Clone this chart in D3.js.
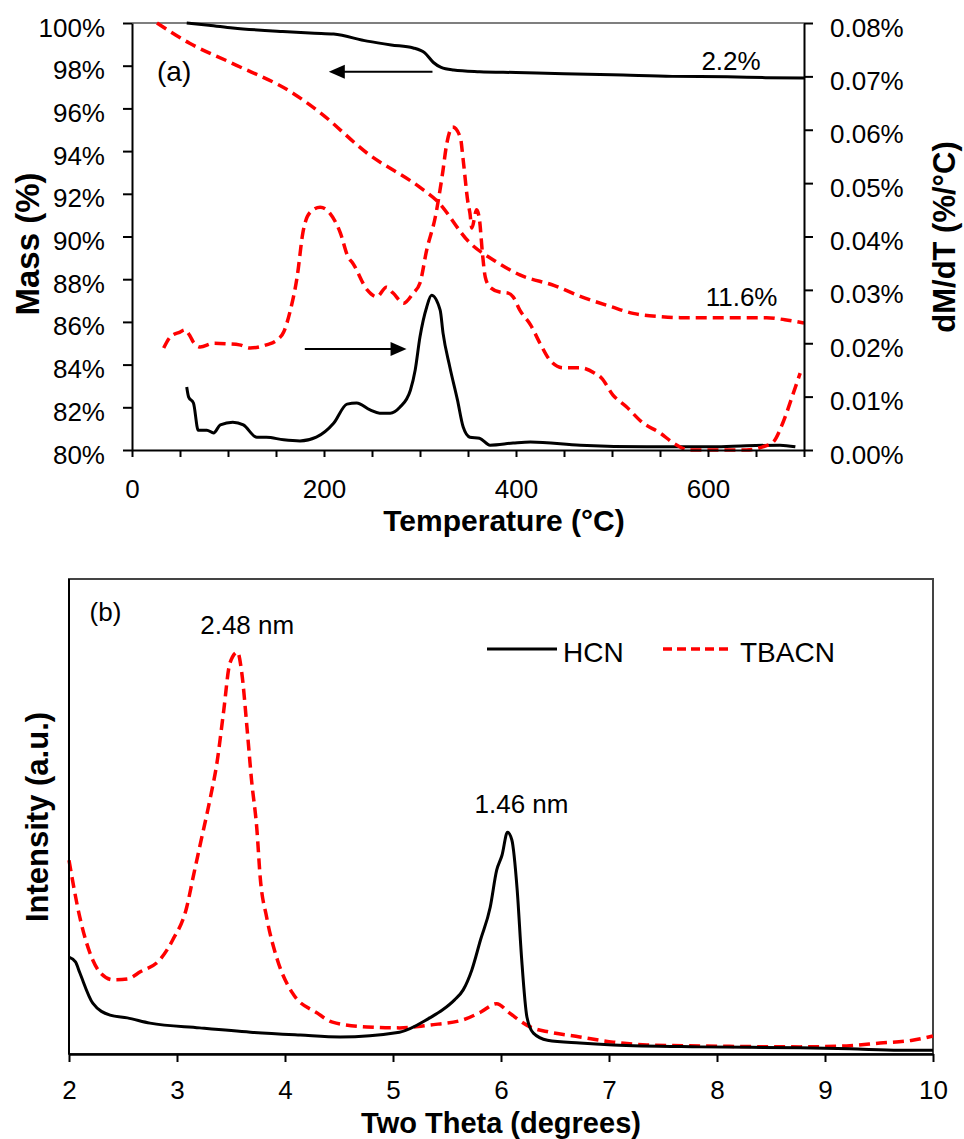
<!DOCTYPE html>
<html>
<head>
<meta charset="utf-8">
<script src="https://cdn.jsdelivr.net/npm/d3@7"></script>
<style>
body { margin: 0; background: #fff; }
text { font-family: Arial, "Liberation Sans", sans-serif; fill: #000; }
</style>
</head>
<body>
<div id="chart"></div>
<script>
// ---- panel (a): TGA, [temperature °C, value] ----
var hcnMass = [[57,100],[80,99.9],[105,99.77],[157,99.6],[190,99.52],[210,99.48],[245,99.15],[270,98.97],[293,98.83],[305,98.6],
  [314,98.15],[322,97.92],[335,97.8],[362,97.72],[400,97.68],[450,97.62],[500,97.58],[563,97.5],[620,97.48],[660,97.44],[700,97.42]];
var tbacnMass = [[26,100],[60,99.05],[105,98.1],[168,96.7],[196,95.8],[245,93.9],[300,92.3],[317,91.7],[352,89.7],[380,88.8],
  [404,88.2],[440,87.7],[467,87.2],[500,86.7],[522,86.4],[550,86.25],[571,86.2],[661,86.2],[680,86.1],[700,85.95]];
var hcnRate = [[57,0.0118],[59,0.0099],[64,0.0088],[69,0.0037],[78,0.0037],[85,0.0032],[92,0.0047],[105,0.0052],[116,0.0047],
  [130,0.0024],[140,0.0024],[158,0.0019],[175,0.0017],[192,0.0024],[210,0.005],[224,0.0086],[234,0.0088],[248,0.0075],
  [258,0.0069],[269,0.0069],[279,0.008],[290,0.0112],[295,0.015],[300,0.0212],[307,0.0268],[312,0.029],[321,0.0262],
  [324,0.0219],[331,0.0156],[339,0.0094],[345,0.0043],[352,0.0024],[362,0.0022],[373,0.0009],[397,0.0013],[415,0.0015],
  [467,0.0009],[536,0.0006],[605,0.0006],[640,0.0008],[675,0.0009],[691,0.0006]];
var tbacnRate = [[33,0.0191],[40,0.0212],[50,0.0221],[55,0.0225],[60,0.0215],[64,0.0202],[71,0.0193],[85,0.02],[99,0.0199],
  [112,0.0197],[123,0.0191],[140,0.0197],[151,0.0206],[158,0.0221],[165,0.0262],[172,0.0324],[178,0.0407],[185,0.0444],
  [196,0.0455],[206,0.0444],[217,0.0407],[225,0.0362],[230,0.035],[245,0.03],[255,0.0287],[265,0.0305],[272,0.0294],
  [283,0.0275],[293,0.0294],[300,0.0313],[307,0.0375],[316,0.0437],[323,0.0512],[328,0.0575],[334,0.0605],[342,0.0586],
  [345,0.0543],[350,0.0463],[352,0.0444],[354,0.0416],[359,0.045],[362,0.0431],[365,0.0369],[368,0.0324],[373,0.0305],
  [383,0.0296],[392,0.0294],[397,0.0287],[404,0.0262],[415,0.0235],[425,0.02],[435,0.0169],[449,0.0154],[467,0.0154],
  [482,0.0144],[489,0.0135],[501,0.0103],[515,0.0081],[532,0.0051],[550,0.0032],[564,0.0013],[581,0],[605,0],[640,0],
  [657,0.0006],[668,0.0015],[678,0.0051],[689,0.0107],[696,0.0144]];
var tempTicks = d3.range(0, 701, 50);
var massTicks = d3.range(80, 101, 2);
var rateTicks = d3.range(0, 9).map(function (i) { return i / 100; });

// ---- panel (b): XRD, [two theta, intensity a.u.] ----
var hcnXrd = [[2.00,20.4],[2.06,19.4],[2.10,17.1],[2.22,10.7],[2.38,8.2],[2.54,7.6],[2.75,6.5],[3.21,5.5],[3.68,4.6],[4.14,4.0],
  [4.51,3.6],[5.06,4.6],[5.34,7.6],[5.46,9.3],[5.57,11.4],[5.65,13.5],[5.73,17.7],[5.81,24.0],[5.90,30.9],[5.96,38.7],
  [6.01,41.9],[6.06,46.7],[6.10,45.1],[6.15,34.5],[6.19,20.4],[6.24,7.8],[6.30,4.4],[6.43,2.9],[6.73,2.3],[7.04,1.9],
  [7.84,1.5],[8.77,1.3],[9.23,1.1],[9.69,0.8],[10.0,0.8]];
var tbacnXrd = [[2.00,40.8],[2.10,28.8],[2.22,19.8],[2.29,17.1],[2.41,15.6],[2.54,15.8],[2.66,17.3],[2.84,19.8],[2.96,24.0],
  [3.09,30.9],[3.15,37.3],[3.21,43.6],[3.31,54.1],[3.37,61.3],[3.43,71.8],[3.49,82.3],[3.56,84.6],[3.60,80.2],[3.65,68.2],
  [3.69,57.7],[3.74,47.2],[3.77,37.3],[3.83,28.8],[3.93,19.8],[4.07,12.8],[4.30,8.6],[4.44,6.7],[4.76,5.7],[5.06,5.5],
  [5.34,6.1],[5.65,7.2],[5.81,8.8],[5.96,10.6],[6.08,8.6],[6.27,5.7],[6.45,4.6],[6.73,3.6],[7.04,2.5],[7.35,1.9],
  [7.84,1.7],[8.77,1.5],[9.20,1.7],[9.51,2.3],[9.81,2.9],[10.0,3.8]];
var thetaTicks = d3.range(2, 11, 1);
var seriesNames = ["HCN", "TBACN"];

var red = "#ff0000";
var dash = "11,6";

var svg = d3.select("#chart").append("svg")
    .attr("width", 964)
    .attr("height", 1139);

// ================= panel (a) =================
var xA = d3.scaleLinear().domain([0, 700]).range([132, 804]);
var yMass = d3.scaleLinear().domain([80, 100]).range([450, 23]);
var yRate = d3.scaleLinear().domain([0, 0.08]).range([450, 23]);

var gA = svg.append("g");

// top frame line
gA.append("line")
    .attr("x1", xA(0)).attr("x2", xA(700))
    .attr("y1", yMass(100)).attr("y2", yMass(100))
    .attr("stroke", "#555").attr("stroke-width", 1.5);

var lineMass = d3.line()
    .x(function (d) { return xA(d[0]); })
    .y(function (d) { return yMass(d[1]); })
    .curve(d3.curveMonotoneX);
var lineRate = d3.line()
    .x(function (d) { return xA(d[0]); })
    .y(function (d) { return yRate(d[1]); })
    .curve(d3.curveMonotoneX);

gA.append("path").attr("d", lineMass(hcnMass))
    .attr("fill", "none").attr("stroke", "#000").attr("stroke-width", 3);
gA.append("path").attr("d", lineRate(hcnRate))
    .attr("fill", "none").attr("stroke", "#000").attr("stroke-width", 3);
gA.append("path").attr("d", lineMass(tbacnMass))
    .attr("fill", "none").attr("stroke", red).attr("stroke-width", 3.5).attr("stroke-dasharray", dash);
gA.append("path").attr("d", lineRate(tbacnRate))
    .attr("fill", "none").attr("stroke", red).attr("stroke-width", 3.5).attr("stroke-dasharray", dash);

// axes
var axA = gA.append("g")
    .attr("transform", "translate(0," + yMass(80) + ")")
    .call(d3.axisBottom(xA).tickValues(tempTicks).tickSize(7).tickSizeOuter(0)
        .tickFormat(function (d) { return d % 200 === 0 ? d : ""; }));
axA.selectAll("text").attr("y", 48).attr("dy", 0);

var ayL = gA.append("g")
    .attr("transform", "translate(" + xA(0) + ",0)")
    .call(d3.axisLeft(yMass).tickValues(massTicks).tickSize(9).tickPadding(18).tickSizeOuter(0)
        .tickFormat(function (d) { return d + "%"; }));
ayL.selectAll("text").attr("dy", "0.5em");

var ayR = gA.append("g")
    .attr("transform", "translate(" + xA(700) + ",0)")
    .call(d3.axisRight(yRate).tickValues(rateTicks).tickSize(9).tickPadding(17).tickSizeOuter(0)
        .tickFormat(function (d) { return d.toFixed(2) + "%"; }));
ayR.selectAll("text").attr("dy", "0.5em");

[axA, ayL, ayR].forEach(function (ax) {
    ax.select(".domain").attr("stroke", "#000").attr("stroke-width", 2);
    ax.selectAll(".tick line").attr("stroke", "#000").attr("stroke-width", 2);
    ax.selectAll("text").attr("font-size", 26).attr("font-family", "Arial, 'Liberation Sans', sans-serif");
});

// axis titles
gA.append("text")
    .attr("x", 504).attr("y", 531)
    .attr("text-anchor", "middle")
    .attr("font-size", 30).attr("font-weight", "bold")
    .text("Temperature (°C)");
gA.append("text")
    .attr("transform", "translate(39,244) rotate(-90)")
    .attr("text-anchor", "middle")
    .attr("font-size", 33).attr("font-weight", "bold")
    .text("Mass (%)");
gA.append("text")
    .attr("transform", "translate(955,237) rotate(-90)")
    .attr("text-anchor", "middle")
    .attr("font-size", 31).attr("font-weight", "bold")
    .text("dM/dT (%/°C)");

// annotations
gA.append("text").attr("x", 157).attr("y", yMass(97.28))
    .attr("font-size", 28).text("(a)");
gA.append("text").attr("x", xA(624)).attr("y", yMass(97.8))
    .attr("text-anchor", "middle").attr("font-size", 26).text("2.2%");
gA.append("text").attr("x", xA(635)).attr("y", yMass(86.74))
    .attr("text-anchor", "middle").attr("font-size", 26).text("11.6%");

// arrows: mass curve -> left axis, rate curve -> right axis
function arrow(g, x1, x2, y) {
    var dir = x2 > x1 ? 1 : -1;
    g.append("line")
        .attr("x1", x1).attr("x2", x2 - dir * 12)
        .attr("y1", y).attr("y2", y)
        .attr("stroke", "#000").attr("stroke-width", 2);
    g.append("path")
        .attr("d", "M" + x2 + "," + y + "L" + (x2 - dir * 16) + "," + (y - 7) + "L" + (x2 - dir * 16) + "," + (y + 7) + "Z")
        .attr("fill", "#000");
}
arrow(gA, xA(313), xA(205), yMass(97.72));
arrow(gA, xA(180), xA(286), yRate(0.0189));

// ================= panel (b) =================
var xB = d3.scaleLinear().domain([2, 10]).range([69, 933]);
var yB = d3.scaleLinear().domain([0, 100]).range([1054, 579]);

var gB = svg.append("g");

gB.append("rect")
    .attr("x", xB(2)).attr("y", yB(100))
    .attr("width", xB(10) - xB(2)).attr("height", yB(0) - yB(100))
    .attr("fill", "none").attr("stroke", "#444").attr("stroke-width", 2);

var lineB = d3.line()
    .x(function (d) { return xB(d[0]); })
    .y(function (d) { return yB(d[1]); })
    .curve(d3.curveMonotoneX);

gB.append("path").attr("d", lineB(tbacnXrd))
    .attr("fill", "none").attr("stroke", red).attr("stroke-width", 3.5).attr("stroke-dasharray", dash);
gB.append("path").attr("d", lineB(hcnXrd))
    .attr("fill", "none").attr("stroke", "#000").attr("stroke-width", 3);

var axB = gB.append("g")
    .attr("transform", "translate(0," + yB(0) + ")")
    .call(d3.axisBottom(xB).tickValues(thetaTicks).tickSize(8).tickSizeOuter(0).tickFormat(d3.format("d")));
axB.selectAll("text").attr("y", 45).attr("dy", 0).attr("font-size", 26)
    .attr("font-family", "Arial, 'Liberation Sans', sans-serif");
axB.select(".domain").attr("stroke", "#000").attr("stroke-width", 2.5);
axB.selectAll(".tick line").attr("stroke", "#000").attr("stroke-width", 2);

gB.append("line")
    .attr("x1", xB(2)).attr("x2", xB(2))
    .attr("y1", yB(0)).attr("y2", yB(100))
    .attr("stroke", "#000").attr("stroke-width", 2);

gB.append("text")
    .attr("x", 501).attr("y", 1133)
    .attr("text-anchor", "middle")
    .attr("font-size", 29).attr("font-weight", "bold")
    .text("Two Theta (degrees)");
gB.append("text")
    .attr("transform", "translate(48,817) rotate(-90)")
    .attr("text-anchor", "middle")
    .attr("font-size", 31).attr("font-weight", "bold")
    .text("Intensity (a.u.)");

// annotations
gB.append("text").attr("x", xB(2.19)).attr("y", yB(91.2))
    .attr("font-size", 26).text("(b)");
gB.append("text").attr("x", xB(3.65)).attr("y", yB(88.4))
    .attr("text-anchor", "middle").attr("font-size", 26).text("2.48 nm");
gB.append("text").attr("x", xB(6.19)).attr("y", yB(50.7))
    .attr("text-anchor", "middle").attr("font-size", 26).text("1.46 nm");

// legend
var legend = gB.append("g").attr("transform", "translate(487,649)");
legend.selectAll("line")
    .data(seriesNames)
    .enter()
    .append("line")
    .attr("x1", function (d, i) { return i * 176; })
    .attr("x2", function (d, i) { return i * 176 + 70; })
    .attr("y1", 0).attr("y2", 0)
    .attr("stroke", function (d, i) { return i === 0 ? "#000" : red; })
    .attr("stroke-width", function (d, i) { return i === 0 ? 3 : 3.5; })
    .attr("stroke-dasharray", function (d, i) { return i === 0 ? null : "9,5"; });
legend.selectAll("text")
    .data(seriesNames)
    .enter()
    .append("text")
    .attr("x", function (d, i) { return i * 176 + (i === 0 ? 76 : 77); })
    .attr("y", 13)
    .attr("font-size", 28)
    .text(function (d) { return d; });
</script>
</body>
</html>
